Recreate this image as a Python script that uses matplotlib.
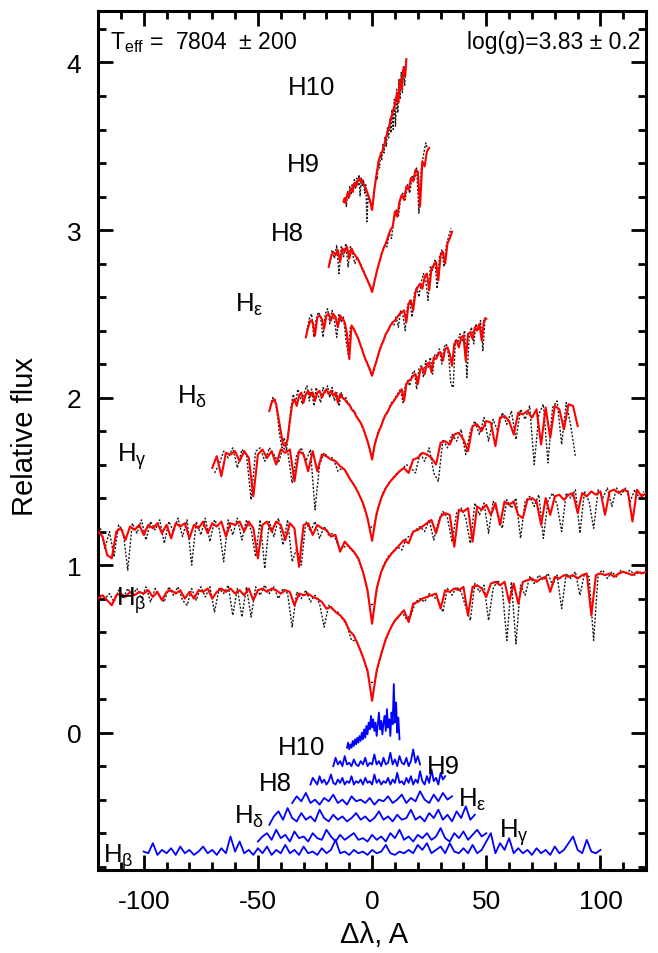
import numpy as np
import matplotlib
matplotlib.use('Agg')
import matplotlib.pyplot as plt
from matplotlib.ticker import MultipleLocator

plt.rcParams['font.family'] = ['Liberation Sans', 'DejaVu Sans']
plt.rcParams['mathtext.default'] = 'regular'
plt.rcParams['axes.unicode_minus'] = False

# ---- Balmer line profiles: model (red) and observed (black), read off the picture
# each profile: (start, step) of the wavelength grid + flux values (already shifted)

hb_model_x0, hb_model_dx = -120, 2
hb_model = [0.80, 0.82, 0.79, 0.76, 0.82, 0.83, 0.81, 0.84, 0.82, 0.84, 0.83, 0.85, 0.81, 0.84, 0.79, 0.84,
            0.85, 0.83, 0.85, 0.80, 0.84, 0.80, 0.85, 0.84, 0.86, 0.80, 0.84, 0.86, 0.84, 0.86, 0.83, 0.85,
            0.82, 0.86, 0.79, 0.85, 0.86, 0.84, 0.86, 0.85, 0.83, 0.85, 0.84, 0.76, 0.83, 0.82, 0.83, 0.81,
            0.80, 0.78, 0.74, 0.75, 0.72, 0.70, 0.67, 0.61, 0.58, 0.52, 0.45, 0.37, 0.19, 0.37, 0.47, 0.56,
            0.62, 0.67, 0.70, 0.73, 0.66, 0.77, 0.78, 0.80, 0.81, 0.82, 0.83, 0.74, 0.85, 0.84, 0.86, 0.85,
            0.87, 0.70, 0.87, 0.88, 0.86, 0.81, 0.89, 0.90, 0.88, 0.90, 0.78, 0.89, 0.77, 0.90, 0.91, 0.92,
            0.90, 0.92, 0.93, 0.84, 0.93, 0.92, 0.94, 0.93, 0.94, 0.92, 0.94, 0.95, 0.70, 0.94, 0.95, 0.94,
            0.95, 0.93, 0.95, 0.96, 0.95, 0.94, 0.96, 0.95, 0.96]
hb_obs_x0, hb_obs_dx = -119, 2
hb_obs = [0.82, 0.80, 0.83, 0.78, 0.85, 0.80, 0.86, 0.82, 0.86, 0.80, 0.87, 0.78, 0.86, 0.81, 0.78, 0.87,
          0.82, 0.87, 0.79, 0.76, 0.86, 0.79, 0.87, 0.81, 0.87, 0.72, 0.86, 0.83, 0.88, 0.70, 0.86, 0.69,
          0.87, 0.69, 0.87, 0.82, 0.88, 0.83, 0.87, 0.80, 0.86, 0.83, 0.63, 0.84, 0.80, 0.85, 0.78, 0.82,
          0.77, 0.63, 0.76, 0.73, 0.72, 0.68, 0.64, 0.55, 0.55, 0.49, 0.41, 0.30, 0.30, 0.42, 0.51, 0.59,
          0.65, 0.68, 0.72, 0.68, 0.70, 0.78, 0.80, 0.78, 0.83, 0.81, 0.79, 0.72, 0.86, 0.82, 0.87, 0.84,
          0.75, 0.67, 0.89, 0.84, 0.88, 0.67, 0.86, 0.91, 0.86, 0.55, 0.90, 0.53, 0.88, 0.82, 0.93, 0.89,
          0.94, 0.91, 0.95, 0.88, 0.94, 0.74, 0.95, 0.92, 0.96, 0.82, 0.95, 0.93, 0.55, 0.95, 0.97, 0.92,
          0.96, 0.93, 0.97, 0.95, 0.97, 0.94, 0.96, 0.95]

hg_model_x0, hg_model_dx = -120, 2
hg_model = [1.20, 1.17, 1.06, 1.04, 1.20, 1.22, 1.15, 1.23, 1.21, 1.24, 1.18, 1.24, 1.22, 1.25, 1.19, 1.24,
            1.16, 1.25, 1.23, 1.25, 1.16, 1.24, 1.22, 1.26, 1.19, 1.25, 1.23, 1.26, 1.17, 1.25, 1.24, 1.26,
            1.20, 1.26, 1.22, 1.04, 1.24, 1.26, 1.20, 1.26, 1.24, 1.15, 1.25, 1.22, 0.99, 1.24, 1.25, 1.18,
            1.24, 1.22, 1.21, 1.17, 1.18, 1.08, 1.14, 1.11, 1.08, 1.04, 0.96, 0.85, 0.65, 0.86, 0.96, 1.02,
            1.06, 1.09, 1.12, 1.15, 1.13, 1.20, 1.21, 1.23, 1.25, 1.27, 1.19, 1.29, 1.31, 1.30, 1.11, 1.33,
            1.32, 1.34, 1.14, 1.35, 1.33, 1.36, 1.30, 1.37, 1.24, 1.38, 1.36, 1.38, 1.30, 1.28, 1.39, 1.40,
            1.38, 1.24, 1.40, 1.30, 1.41, 1.42, 1.39, 1.42, 1.43, 1.31, 1.43, 1.41, 1.44, 1.42, 1.44, 1.30,
            1.44, 1.45, 1.43, 1.45, 1.44, 1.26, 1.45, 1.41, 1.43]
hg_obs_x0, hg_obs_dx = -119, 2
hg_obs = [1.22, 1.10, 1.20, 1.05, 1.24, 1.20, 0.97, 1.25, 1.19, 1.27, 1.15, 1.26, 1.21, 1.27, 1.13, 1.26,
          1.20, 1.28, 1.17, 1.27, 1.00, 1.26, 1.18, 1.28, 1.14, 1.27, 1.22, 1.02, 1.27, 1.18, 1.28, 1.15,
          1.27, 1.21, 1.05, 1.27, 0.98, 1.26, 1.17, 1.28, 1.12, 1.27, 1.02, 1.10, 1.00, 1.26, 1.20, 1.26,
          1.16, 1.23, 1.18, 1.19, 1.12, 1.10, 1.12, 1.09, 1.06, 1.00, 0.91, 0.76, 0.77, 0.92, 1.00, 1.05,
          1.08, 1.11, 1.09, 1.16, 1.18, 1.21, 1.23, 1.20, 1.27, 1.15, 1.26, 1.32, 1.28, 1.14, 1.31, 1.34,
          1.28, 1.13, 1.37, 1.30, 1.37, 1.19, 1.38, 1.31, 1.22, 1.39, 1.34, 1.40, 1.16, 1.38, 1.41, 1.35,
          1.42, 1.16, 1.38, 1.43, 1.36, 1.20, 1.43, 1.40, 1.45, 1.19, 1.44, 1.38, 1.22, 1.45, 1.40, 1.46,
          1.35, 1.46, 1.42, 1.46, 1.38, 1.45, 1.40, 1.44]

hd_model_x0, hd_model_dx = -70, 2
hd_model = [1.58, 1.65, 1.53, 1.67, 1.66, 1.68, 1.62, 1.68, 1.64, 1.41, 1.66, 1.69, 1.64, 1.68, 1.60, 1.69,
            1.67, 1.69, 1.50, 1.68, 1.66, 1.56, 1.68, 1.56, 1.66, 1.65, 1.63, 1.62, 1.59, 1.57, 1.52, 1.48,
            1.43, 1.37, 1.28, 1.145, 1.31, 1.40, 1.46, 1.50, 1.53, 1.56, 1.58, 1.55, 1.63, 1.64, 1.67, 1.66,
            1.64, 1.60, 1.73, 1.74, 1.72, 1.78, 1.79, 1.75, 1.68, 1.83, 1.84, 1.80, 1.86, 1.85, 1.71, 1.88,
            1.89, 1.86, 1.78, 1.91, 1.90, 1.92, 1.88, 1.93, 1.72, 1.94, 1.76, 1.95, 1.93, 1.81, 1.96, 1.95,
            1.83]
hd_obs_x0, hd_obs_dx = -69, 2
hd_obs = [1.55, 1.60, 1.68, 1.64, 1.70, 1.58, 1.69, 1.66, 1.39, 1.68, 1.70, 1.62, 1.70, 1.66, 1.61, 1.70,
          1.68, 1.49, 1.66, 1.70, 1.62, 1.69, 1.33, 1.60, 1.67, 1.64, 1.64, 1.56, 1.58, 1.55, 1.50, 1.46,
          1.40, 1.33, 1.22, 1.24, 1.36, 1.44, 1.48, 1.52, 1.55, 1.57, 1.60, 1.58, 1.55, 1.67, 1.62, 1.70,
          1.55, 1.50, 1.75, 1.70, 1.78, 1.74, 1.81, 1.66, 1.80, 1.86, 1.78, 1.88, 1.74, 1.87, 1.80, 1.91,
          1.84, 1.92, 1.75, 1.93, 1.87, 1.95, 1.60, 1.90, 1.96, 1.61, 1.94, 1.98, 1.72, 1.97, 1.83, 1.65]

he_model_x0, he_model_dx = -45, 1
he_model = [1.92, 1.97, 1.99, 1.96, 1.88, 1.80, 1.72, 1.71, 1.75, 1.86, 1.96, 1.99, 1.95, 2.01, 2.03, 1.97,
            2.02, 2.04, 2.01, 2.03, 1.98, 2.03, 2.04, 2.00, 2.03, 2.05, 2.02, 2.04, 2.01, 2.03, 1.97, 2.02,
            2.00, 1.99, 1.97, 1.96, 1.93, 1.92, 1.89, 1.87, 1.85, 1.82, 1.78, 1.74, 1.69, 1.63, 1.71, 1.76,
            1.80, 1.83, 1.87, 1.90, 1.92, 1.95, 1.97, 1.99, 2.01, 2.03, 2.05, 1.98, 2.08, 2.10, 2.11, 2.13,
            2.14, 2.08, 2.16, 2.18, 2.14, 2.20, 2.21, 2.15, 2.24, 2.23, 2.26, 2.27, 2.22, 2.29, 2.30, 2.26,
            2.19, 2.32, 2.34, 2.30, 2.36, 2.37, 2.22, 2.38, 2.39, 2.35, 2.42, 2.40, 2.44, 2.34, 2.46, 2.47]
he_obs_x0, he_obs_dx = -44.5, 1
he_obs = [1.95, 2.00, 1.99, 1.90, 1.78, 1.70, 1.76, 1.68, 1.82, 1.94, 2.02, 1.97, 2.05, 2.00, 1.96, 2.04,
          2.07, 1.98, 2.05, 1.95, 2.06, 2.01, 1.97, 2.06, 2.03, 2.07, 2.00, 2.06, 1.98, 2.03, 1.95, 2.03,
          1.99, 2.00, 1.96, 1.95, 1.92, 1.91, 1.88, 1.86, 1.83, 1.80, 1.76, 1.72, 1.66, 1.67, 1.74, 1.79,
          1.82, 1.85, 1.89, 1.90, 1.94, 1.97, 1.98, 2.01, 2.03, 2.05, 1.97, 2.07, 2.10, 2.07, 2.14, 2.16,
          2.05, 2.17, 2.19, 2.12, 2.22, 2.18, 2.24, 2.14, 2.26, 2.25, 2.29, 2.20, 2.30, 2.32, 2.25, 2.08,
          2.06, 2.35, 2.33, 2.38, 2.34, 2.40, 2.12, 2.36, 2.42, 2.32, 2.44, 2.40, 2.46, 2.28, 2.48]

h8_model_x0, h8_model_dx = -29, 1
h8_model = [2.36, 2.42, 2.46, 2.45, 2.37, 2.48, 2.49, 2.47, 2.41, 2.49, 2.50, 2.46, 2.50, 2.48, 2.42, 2.49,
            2.47, 2.45, 2.38, 2.23, 2.43, 2.41, 2.38, 2.35, 2.31, 2.27, 2.23, 2.20, 2.17, 2.13, 2.18, 2.22,
            2.27, 2.31, 2.34, 2.38, 2.40, 2.43, 2.45, 2.46, 2.48, 2.50, 2.51, 2.52, 2.45, 2.56, 2.58, 2.52,
            2.63, 2.66, 2.68, 2.65, 2.72, 2.74, 2.64, 2.77, 2.79, 2.81, 2.70, 2.85, 2.87, 2.80, 2.92, 2.95,
            2.99]
h8_obs_x0, h8_obs_dx = -28.5, 1
h8_obs = [2.40, 2.47, 2.50, 2.36, 2.47, 2.51, 2.48, 2.36, 2.50, 2.53, 2.44, 2.52, 2.46, 2.36, 2.50, 2.45,
          2.48, 2.35, 2.26, 2.42, 2.42, 2.39, 2.37, 2.33, 2.29, 2.25, 2.22, 2.18, 2.14, 2.15, 2.20, 2.25,
          2.29, 2.33, 2.36, 2.39, 2.42, 2.44, 2.43, 2.48, 2.42, 2.52, 2.49, 2.40, 2.55, 2.58, 2.48, 2.62,
          2.66, 2.60, 2.69, 2.74, 2.70, 2.58, 2.78, 2.76, 2.82, 2.65, 2.84, 2.88, 2.78, 2.91, 2.96, 3.01]

h9_model_x0, h9_model_dx = -19, 1
h9_model = [2.78, 2.84, 2.87, 2.85, 2.88, 2.81, 2.89, 2.87, 2.90, 2.83, 2.89, 2.86, 2.84, 2.82, 2.79, 2.76,
            2.73, 2.70, 2.67, 2.63, 2.69, 2.75, 2.80, 2.85, 2.89, 2.92, 2.96, 3.00, 3.02, 3.11, 3.08, 3.17,
            3.21, 3.18, 3.26, 3.24, 3.31, 3.29, 3.36, 3.35, 3.14, 3.41, 3.38, 3.47, 3.49]
h9_obs_x0, h9_obs_dx = -18.5, 1
h9_obs = [2.80, 2.88, 2.83, 2.91, 2.74, 2.90, 2.84, 2.92, 2.78, 2.90, 2.85, 2.80, 2.84, 2.81, 2.78, 2.75,
          2.71, 2.68, 2.65, 2.66, 2.72, 2.78, 2.82, 2.87, 2.91, 2.90, 2.98, 2.95, 3.06, 3.12, 3.08, 3.19,
          3.22, 3.18, 3.27, 3.22, 3.32, 3.30, 3.37, 3.10, 3.36, 3.45, 3.52, 3.47]

h10_model_x0, h10_model_dx = -12.5, 0.5
h10_model = [3.17, 3.19, 3.16, 3.21, 3.22, 3.20, 3.24, 3.25, 3.23, 3.27, 3.28, 3.26, 3.29, 3.30, 3.31, 3.29,
             3.30, 3.28, 3.27, 3.25, 3.24, 3.22, 3.20, 3.18, 3.15, 3.12, 3.18, 3.24, 3.29, 3.34, 3.38, 3.42,
             3.44, 3.46, 3.47, 3.49, 3.52, 3.55, 3.57, 3.60, 3.62, 3.65, 3.68, 3.70, 3.73, 3.75, 3.79, 3.82,
             3.76, 3.87, 3.90, 3.84, 3.95, 3.97, 3.92, 4.02]
h10_obs_x0, h10_obs_dx = -12.25, 0.5
h10_obs = [3.16, 3.20, 3.14, 3.23, 3.19, 3.26, 3.21, 3.27, 3.22, 3.30, 3.25, 3.31, 3.27, 3.33, 3.20, 3.31,
           3.26, 3.30, 3.22, 3.27, 3.05, 3.22, 3.17, 3.17, 3.12, 3.15, 3.22, 3.27, 3.32, 3.30, 3.41, 3.37,
           3.47, 3.42, 3.51, 3.46, 3.56, 3.50, 3.61, 3.55, 3.66, 3.58, 3.72, 3.60, 3.78, 3.62, 3.84, 3.70,
           3.90, 3.78, 3.94, 3.82, 3.98, 3.86, 4.00]

# ---- residuals (blue), shifted below zero
res_b_x0, res_b_dx = -100, 2
res_b = [-0.71, -0.72, -0.66, -0.73, -0.70, -0.72, -0.69, -0.73, -0.68, -0.72, -0.70, -0.73, -0.71, -0.68,
         -0.72, -0.70, -0.73, -0.69, -0.72, -0.62, -0.71, -0.65, -0.72, -0.70, -0.73, -0.69, -0.72, -0.68,
         -0.73, -0.70, -0.72, -0.67, -0.72, -0.70, -0.73, -0.68, -0.72, -0.71, -0.73, -0.69, -0.72, -0.70,
         -0.64, -0.72, -0.71, -0.73, -0.70, -0.72, -0.71, -0.73, -0.70, -0.72, -0.71, -0.67, -0.72, -0.73,
         -0.71, -0.72, -0.70, -0.72, -0.67, -0.70, -0.66, -0.72, -0.70, -0.68, -0.72, -0.66, -0.71, -0.72,
         -0.69, -0.72, -0.67, -0.72, -0.70, -0.65, -0.60, -0.72, -0.66, -0.70, -0.63, -0.72, -0.69, -0.72,
         -0.70, -0.73, -0.69, -0.72, -0.70, -0.73, -0.68, -0.72, -0.70, -0.66, -0.62, -0.70, -0.72, -0.64,
         -0.71, -0.72, -0.70]
res_g_x0, res_g_dx = -50, 2
res_g = [-0.65, -0.62, -0.60, -0.64, -0.58, -0.63, -0.61, -0.65, -0.59, -0.63, -0.62, -0.65, -0.60, -0.63,
         -0.64, -0.58, -0.62, -0.65, -0.61, -0.64, -0.62, -0.60, -0.64, -0.63, -0.65, -0.61, -0.64, -0.62,
         -0.65, -0.60, -0.63, -0.58, -0.64, -0.62, -0.65, -0.61, -0.63, -0.60, -0.64, -0.62, -0.57, -0.63,
         -0.65, -0.60, -0.63, -0.59, -0.64, -0.61, -0.58, -0.62, -0.60]
res_d_x0, res_d_dx = -45, 2
res_d = [-0.55, -0.50, -0.47, -0.52, -0.45, -0.51, -0.53, -0.48, -0.52, -0.50, -0.53, -0.46, -0.51, -0.53,
         -0.49, -0.52, -0.50, -0.53, -0.51, -0.48, -0.52, -0.50, -0.53, -0.51, -0.47, -0.52, -0.50, -0.53,
         -0.49, -0.52, -0.51, -0.46, -0.52, -0.50, -0.53, -0.48, -0.51, -0.46, -0.52, -0.49, -0.53, -0.47,
         -0.51, -0.44, -0.52, -0.49]
res_e_x0, res_e_dx = -35, 2
res_e = [-0.42, -0.38, -0.41, -0.36, -0.42, -0.40, -0.43, -0.39, -0.41, -0.37, -0.42, -0.40, -0.43, -0.38,
         -0.41, -0.40, -0.42, -0.39, -0.43, -0.40, -0.41, -0.38, -0.42, -0.40, -0.37, -0.42, -0.39, -0.41,
         -0.35, -0.40, -0.42, -0.37, -0.41, -0.36, -0.40, -0.38]
res_8_x0, res_8_dx = -27, 1
res_8 = [-0.31, -0.27, -0.29, -0.31, -0.26, -0.30, -0.28, -0.31, -0.29, -0.25, -0.30, -0.31, -0.28, -0.30,
         -0.27, -0.31, -0.29, -0.30, -0.26, -0.31, -0.29, -0.30, -0.28, -0.31, -0.27, -0.30, -0.29, -0.31,
         -0.25, -0.30, -0.28, -0.31, -0.29, -0.30, -0.27, -0.31, -0.28, -0.30, -0.24, -0.30, -0.29, -0.31,
         -0.27, -0.30, -0.26, -0.31, -0.28, -0.30, -0.23, -0.29, -0.31, -0.26, -0.30, -0.22, -0.29, -0.27,
         -0.31, -0.24, -0.28, -0.26]
res_9_x0, res_9_dx = -17, 1
res_9 = [-0.20, -0.15, -0.19, -0.17, -0.20, -0.14, -0.19, -0.18, -0.20, -0.16, -0.19, -0.20, -0.17, -0.19,
         -0.15, -0.20, -0.18, -0.19, -0.13, -0.19, -0.17, -0.20, -0.15, -0.19, -0.18, -0.12, -0.19, -0.16,
         -0.20, -0.14, -0.18, -0.19, -0.15, -0.20, -0.17, -0.10, -0.18, -0.14, -0.19]
res_10_x0, res_10_dx = -11, 0.5
res_10 = [-0.09, -0.06, -0.10, -0.07, -0.09, -0.05, -0.08, -0.04, -0.07, -0.03, -0.06, -0.02, -0.05, 0.00,
          -0.04, 0.02, -0.03, 0.04, -0.01, 0.06, 0.02, 0.10, 0.03, 0.08, 0.01, 0.06, -0.02, 0.05, 0.12, 0.02,
          0.07, -0.01, 0.06, 0.10, 0.01, 0.14, 0.03, 0.08, -0.02, 0.12, 0.05, 0.29, 0.06, 0.18, 0.00, 0.09,
          -0.04]

# ---- line labels: (text, x, y, horizontal alignment)
upper_labels = [('H10', -26.7, 3.81, 'center'), ('H9', -30, 3.35, 'center'), ('H8', -37, 2.94, 'center'),
                ('H$_{ε}$', -60, 2.52, 'left'), ('H$_{δ}$', -85.3, 1.97, 'left'),
                ('H$_{γ}$', -111.5, 1.62, 'left'), ('H$_{β}$', -112.3, 0.765, 'left')]
lower_labels = [('H10', -31, -0.13, 'center'), ('H9', 31, -0.24, 'center'), ('H8', -42.4, -0.34, 'center'),
                ('H$_{ε}$', 37.6, -0.435, 'left'), ('H$_{δ}$', -60.4, -0.54, 'left'),
                ('H$_{γ}$', 55.4, -0.62, 'left'), ('H$_{β}$', -118, -0.77, 'left')]


def grid(x0, dx, vals):
    return x0 + dx * np.arange(len(vals))


fig = plt.figure(figsize=(6.58, 9.54), dpi=100)
ax = fig.add_axes([0.149, 0.087, 0.833, 0.900])

profiles = [
    (hb_model_x0, hb_model_dx, hb_model, hb_obs_x0, hb_obs_dx, hb_obs),
    (hg_model_x0, hg_model_dx, hg_model, hg_obs_x0, hg_obs_dx, hg_obs),
    (hd_model_x0, hd_model_dx, hd_model, hd_obs_x0, hd_obs_dx, hd_obs),
    (he_model_x0, he_model_dx, he_model, he_obs_x0, he_obs_dx, he_obs),
    (h8_model_x0, h8_model_dx, h8_model, h8_obs_x0, h8_obs_dx, h8_obs),
    (h9_model_x0, h9_model_dx, h9_model, h9_obs_x0, h9_obs_dx, h9_obs),
    (h10_model_x0, h10_model_dx, h10_model, h10_obs_x0, h10_obs_dx, h10_obs),
]
for mx0, mdx, model, ox0, odx, obs in profiles:
    ax.plot(grid(ox0, odx, obs), obs, color='#1a1a1a', lw=1.0, ls=(0, (1.5, 1.2)), zorder=2)
    ax.plot(grid(mx0, mdx, model), model, color='#ff0000', lw=1.5, zorder=3)

residuals = [(res_b_x0, res_b_dx, res_b), (res_g_x0, res_g_dx, res_g), (res_d_x0, res_d_dx, res_d),
             (res_e_x0, res_e_dx, res_e), (res_8_x0, res_8_dx, res_8), (res_9_x0, res_9_dx, res_9),
             (res_10_x0, res_10_dx, res_10)]
for x0, dx, r in residuals:
    ax.plot(grid(x0, dx, r), r, color='#0000ff', lw=1.3, zorder=3)

for txt, x, y, ha in upper_labels + lower_labels:
    ax.text(x, y, txt, fontsize=18.5, ha=ha, va='baseline', zorder=5)

ax.text(-114.6, 4.127, 'T$_{eff}$ =  7804  ± 200', fontsize=16.5, va='center', ha='left')
ax.text(117.5, 4.127, 'log(g)=3.83 ± 0.2', fontsize=16.5, va='center', ha='right')

ax.set_xlim(-120, 120)
ax.set_ylim(-0.82, 4.305)
ax.xaxis.set_major_locator(MultipleLocator(50))
ax.xaxis.set_minor_locator(MultipleLocator(10))
ax.yaxis.set_major_locator(MultipleLocator(1))
ax.yaxis.set_minor_locator(MultipleLocator(0.2))
ax.tick_params(which='both', direction='in', top=True, right=True, width=2, labelsize=19)
ax.tick_params(axis='x', which='major', length=11, pad=14)
ax.tick_params(axis='y', which='major', length=11, pad=12)
ax.tick_params(which='minor', length=6)
for s in ax.spines.values():
    s.set_linewidth(2.2)

fig.text(25 / 658, 1 - 437 / 954, 'Relative flux', rotation=90, fontsize=21, ha='center', va='center')
fig.text(374 / 658, 1 - 935 / 954, 'Δλ, A', fontsize=21, ha='center', va='center')

fig.savefig('out.png', dpi=100)
